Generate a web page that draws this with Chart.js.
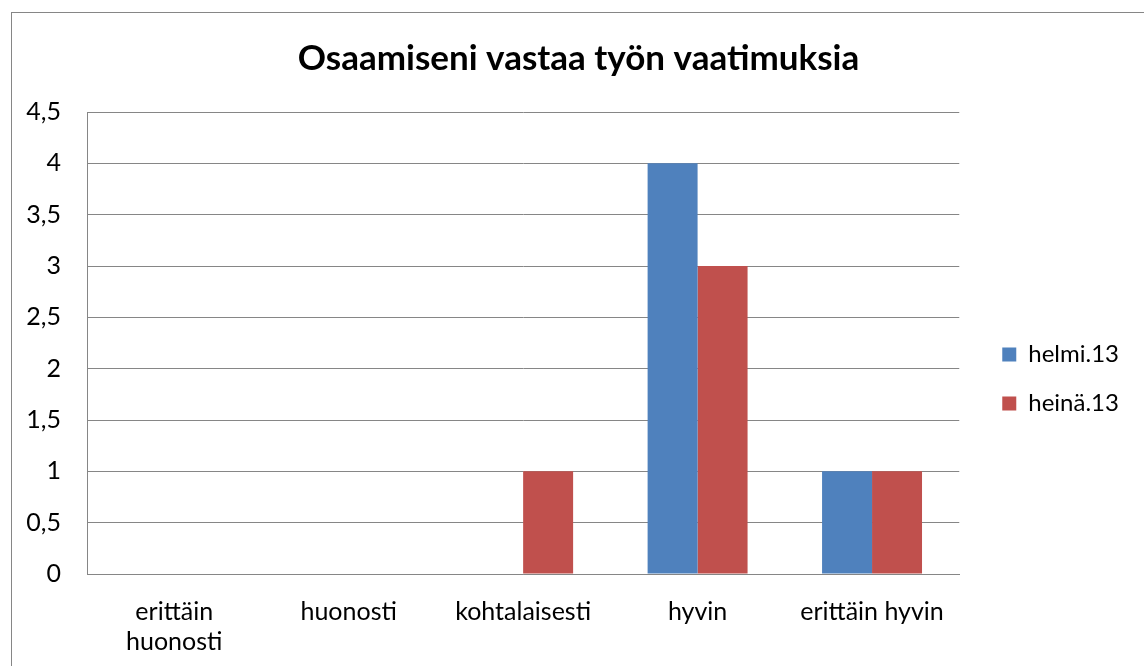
<!DOCTYPE html>
<html>
<head>
<meta charset="utf-8">
<script src="https://cdn.jsdelivr.net/npm/chart.js@4"></script>
<style>
  html, body { margin: 0; padding: 0; background: #fff; }
  #wrap { width: 1144px; height: 666px; position: relative; }
</style>
</head>
<body>
<div id="wrap"><canvas id="kaavio"></canvas></div>
<script>
const luokat = [["erittäin", "huonosti"], "huonosti", "kohtalaisesti", "hyvin", "erittäin hyvin"];
const helmi13 = [0, 0, 0, 4, 1];
const heina13 = [0, 0, 1, 3, 1];
const sarjaNimet = ["helmi.13", "heinä.13"];
const otsikko = "Osaamiseni vastaa työn vaatimuksia";

const fontti = "Lato, 'Open Sans', sans-serif";
const harmaa = "#868686";

// ohut harmaa kehys kuvan ympärillä
const kehys = {
    id: "kehys",
    beforeDraw(chart) {
        const ctx = chart.ctx;
        ctx.save();
        ctx.strokeStyle = harmaa;
        ctx.lineWidth = 1;
        ctx.strokeRect(11.5, 12.5, 1400, 900);
        ctx.restore();
    }
};

// selite ja otsikko hieman siirrettyinä, kuten alkuperäisessä
const siirrot = {
    id: "siirrot",
    afterLayout(chart) {
        const l = chart.legend;
        l.left += 18; l.right += 18;
        l.top += 40; l.bottom += 40;
        const t = chart.titleBlock;
        t.left += 23; t.right += 23;
    }
};

new Chart(document.getElementById("kaavio"), {
    type: "bar",
    data: {
        labels: luokat,
        datasets: [
            {
                label: sarjaNimet[0],
                data: helmi13,
                backgroundColor: "#4F81BD",
                categoryPercentage: 0.573,
                barPercentage: 1
            },
            {
                label: sarjaNimet[1],
                data: heina13,
                backgroundColor: "#C0504D",
                categoryPercentage: 0.573,
                barPercentage: 1
            }
        ]
    },
    options: {
        responsive: true,
        maintainAspectRatio: false,
        animation: false,
        layout: {
            padding: { top: 12, left: 0, right: 33, bottom: 0 }
        },
        plugins: {
            legend: {
                position: "right",
                labels: {
                    boxWidth: 14,
                    boxHeight: 14,
                    padding: 25,
                    color: "#000",
                    font: { family: fontti, size: 24 }
                }
            },
            title: {
                display: true,
                text: otsikko,
                color: "#000",
                font: { family: fontti, size: 35, weight: "bold" },
                padding: { top: 26, bottom: 32 }
            },
            tooltip: { enabled: false }
        },
        scales: {
            x: {
                afterFit(scale) { scale.height = 92; },
                grid: { display: false, drawTicks: false },
                border: { display: true, color: harmaa, width: 1 },
                ticks: {
                    color: "#000",
                    padding: 23,
                    maxRotation: 0,
                    font: { family: fontti, size: 25, lineHeight: 1.2 }
                }
            },
            y: {
                min: 0,
                max: 4.5,
                afterFit(scale) { scale.width = 87; },
                grid: { color: harmaa, lineWidth: 1, drawTicks: false },
                border: { display: true, color: harmaa, width: 1 },
                ticks: {
                    stepSize: 0.5,
                    color: "#000",
                    padding: 26,
                    font: { family: fontti, size: 25 },
                    callback: v => String(v).replace(".", ",")
                }
            }
        }
    },
    plugins: [kehys, siirrot]
});
</script>
</body>
</html>
